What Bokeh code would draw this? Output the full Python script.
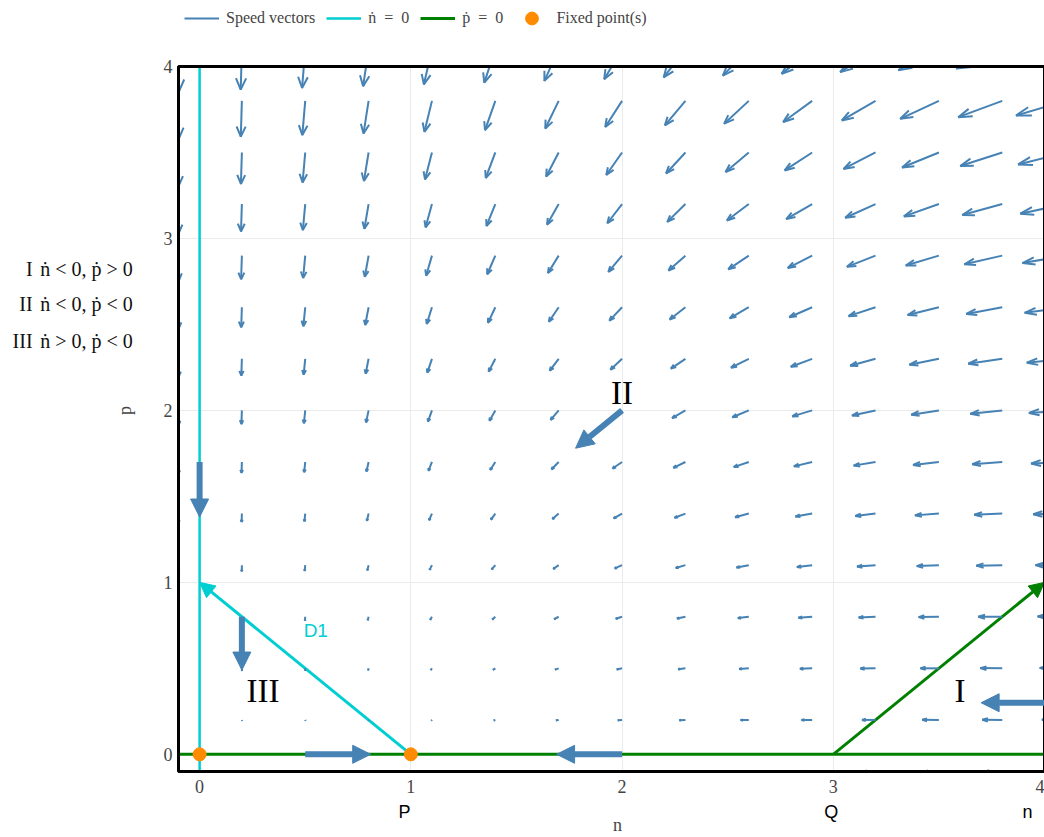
import math
from bokeh.plotting import figure
from bokeh.models import (Range1d, FixedTicker, Label, Arrow, NormalHead,
                          Legend, LegendItem, LinearAxis, BoxAnnotation)
from bokeh.embed import file_html
from bokeh.resources import INLINE

# ---------------- data ----------------
N_GRID = [-0.1, 0.2, 0.5, 0.8, 1.1, 1.4, 1.7, 2.0, 2.3, 2.6, 2.9, 3.2, 3.5, 3.8, 4.1]
P_GRID = [-0.1, 0.2, 0.5, 0.8, 1.1, 1.4, 1.7, 2.0, 2.3, 2.6, 2.9, 3.2, 3.5, 3.8, 4.1]

# speed components (n-dot) per row of P_GRID, columns follow N_GRID
U_ROWS = [
    [-0.12, 0.18, 0.30, 0.24, 0.00, -0.42, -1.02, -1.80, -2.76, -3.90, -5.22, -6.72, -8.40, -10.26, -12.30],
    [-0.09, 0.12, 0.15, 0.00, -0.33, -0.84, -1.53, -2.40, -3.45, -4.68, -6.09, -7.68, -9.45, -11.40, -13.53],
    [-0.06, 0.06, 0.00, -0.24, -0.66, -1.26, -2.04, -3.00, -4.14, -5.46, -6.96, -8.64, -10.50, -12.54, -14.76],
    [-0.03, 0.00, -0.15, -0.48, -0.99, -1.68, -2.55, -3.60, -4.83, -6.24, -7.83, -9.60, -11.55, -13.68, -15.99],
    [0.00, -0.06, -0.30, -0.72, -1.32, -2.10, -3.06, -4.20, -5.52, -7.02, -8.70, -10.56, -12.60, -14.82, -17.22],
    [0.03, -0.12, -0.45, -0.96, -1.65, -2.52, -3.57, -4.80, -6.21, -7.80, -9.57, -11.52, -13.65, -15.96, -18.45],
    [0.06, -0.18, -0.60, -1.20, -1.98, -2.94, -4.08, -5.40, -6.90, -8.58, -10.44, -12.48, -14.70, -17.10, -19.68],
    [0.09, -0.24, -0.75, -1.44, -2.31, -3.36, -4.59, -6.00, -7.59, -9.36, -11.31, -13.44, -15.75, -18.24, -20.91],
    [0.12, -0.30, -0.90, -1.68, -2.64, -3.78, -5.10, -6.60, -8.28, -10.14, -12.18, -14.40, -16.80, -19.38, -22.14],
    [0.15, -0.36, -1.05, -1.92, -2.97, -4.20, -5.61, -7.20, -8.97, -10.92, -13.05, -15.36, -17.85, -20.52, -23.37],
    [0.18, -0.42, -1.20, -2.16, -3.30, -4.62, -6.12, -7.80, -9.66, -11.70, -13.92, -16.32, -18.90, -21.66, -24.60],
    [0.21, -0.48, -1.35, -2.40, -3.63, -5.04, -6.63, -8.40, -10.35, -12.48, -14.79, -17.28, -19.95, -22.80, -25.83],
    [0.24, -0.54, -1.50, -2.64, -3.96, -5.46, -7.14, -9.00, -11.04, -13.26, -15.66, -18.24, -21.00, -23.94, -27.06],
    [0.27, -0.60, -1.65, -2.88, -4.29, -5.88, -7.65, -9.60, -11.73, -14.04, -16.53, -19.20, -22.05, -25.08, -28.29],
    [0.30, -0.66, -1.80, -3.12, -4.62, -6.30, -8.16, -10.20, -12.42, -14.82, -17.40, -20.16, -23.10, -26.22, -29.52],
]
# speed components (p-dot)
V_ROWS = [
    [0.30, 0.27, 0.24, 0.21, 0.18, 0.15, 0.12, 0.09, 0.06, 0.03, 0.00, -0.03, -0.06, -0.09, -0.12],
    [-0.66, -0.60, -0.54, -0.48, -0.42, -0.36, -0.30, -0.24, -0.18, -0.12, -0.06, 0.00, 0.06, 0.12, 0.18],
    [-1.80, -1.65, -1.50, -1.35, -1.20, -1.05, -0.90, -0.75, -0.60, -0.45, -0.30, -0.15, 0.00, 0.15, 0.30],
    [-3.12, -2.88, -2.64, -2.40, -2.16, -1.92, -1.68, -1.44, -1.20, -0.96, -0.72, -0.48, -0.24, 0.00, 0.24],
    [-4.62, -4.29, -3.96, -3.63, -3.30, -2.97, -2.64, -2.31, -1.98, -1.65, -1.32, -0.99, -0.66, -0.33, 0.00],
    [-6.30, -5.88, -5.46, -5.04, -4.62, -4.20, -3.78, -3.36, -2.94, -2.52, -2.10, -1.68, -1.26, -0.84, -0.42],
    [-8.16, -7.65, -7.14, -6.63, -6.12, -5.61, -5.10, -4.59, -4.08, -3.57, -3.06, -2.55, -2.04, -1.53, -1.02],
    [-10.20, -9.60, -9.00, -8.40, -7.80, -7.20, -6.60, -6.00, -5.40, -4.80, -4.20, -3.60, -3.00, -2.40, -1.80],
    [-12.42, -11.73, -11.04, -10.35, -9.66, -8.97, -8.28, -7.59, -6.90, -6.21, -5.52, -4.83, -4.14, -3.45, -2.76],
    [-14.82, -14.04, -13.26, -12.48, -11.70, -10.92, -10.14, -9.36, -8.58, -7.80, -7.02, -6.24, -5.46, -4.68, -3.90],
    [-17.40, -16.53, -15.66, -14.79, -13.92, -13.05, -12.18, -11.31, -10.44, -9.57, -8.70, -7.83, -6.96, -6.09, -5.22],
    [-20.16, -19.20, -18.24, -17.28, -16.32, -15.36, -14.40, -13.44, -12.48, -11.52, -10.56, -9.60, -8.64, -7.68, -6.72],
    [-23.10, -22.05, -21.00, -19.95, -18.90, -17.85, -16.80, -15.75, -14.70, -13.65, -12.60, -11.55, -10.50, -9.45, -8.40],
    [-26.22, -25.08, -23.94, -22.80, -21.66, -20.52, -19.38, -18.24, -17.10, -15.96, -14.82, -13.68, -12.54, -11.40, -10.26],
    [-29.52, -28.29, -27.06, -25.83, -24.60, -23.37, -22.14, -20.91, -19.68, -18.45, -17.22, -15.99, -14.76, -13.53, -12.30],
]

NULL_N_X = [0.0, 0.0]
NULL_N_Y = [-0.1, 4.0]
NULL_P_X = [-0.1, 4.05]
NULL_P_Y = [0.0, 0.0]

D1_START = (1.0, 0.0)
D1_END = (0.0, 1.0)
DIAG_START = (3.0, 0.0)
DIAG_END = (4.0, 1.0)

FIXED_N = [0.0, 1.0]
FIXED_P = [0.0, 0.0]

BIG_X0 = [0.0, 0.2, 0.5, 2.0, 2.0, 4.1]
BIG_Y0 = [1.70, 0.80, 0.0, 0.0, 2.0, 0.30]
BIG_X1 = [0.0, 0.2, 0.81, 1.69, 1.78, 3.70]
BIG_Y1 = [1.38, 0.49, 0.0, 0.0, 1.78, 0.30]

REGION_NAMES = ["II", "III", "I"]
REGION_X = [2.0, 0.30, 3.60]
REGION_Y = [2.10, 0.37, 0.37]

KEY_ROMAN = ["I", "II", "III"]
KEY_TEXT = ["ṅ < 0, ṗ > 0", "ṅ < 0, ṗ < 0", "ṅ > 0, ṗ < 0"]
KEY_Y = [2.825, 2.616, 2.401]

AXIS_TICKS = [0, 1, 2, 3, 4]
POINT_NAMES = ["P", "Q", "n"]
POINT_X = [0.97, 2.99, 3.92]
X_TITLE = "n"
Y_TITLE = "p"

# plotting area (data units) and the full view around it
AREA_X = (-0.1, 4.0)
AREA_Y = (-0.1, 4.0)
VIEW_X = (-0.9427, 4.0)
VIEW_Y = (-0.4838, 4.3838)

# ---------------- style ----------------
VEC_SCALE = 0.0083
HEAD_SCALE = 0.3
HEAD_ANGLE = math.pi / 9
BLUE = "#4682B4"
CYAN = "#00CED1"
GREEN = "#008000"
ORANGE = "#FF8C00"
SERIF = "Liberation Serif"
SANS = "Liberation Sans"
EN = "\u2002"

p = figure(width=1044, height=837, x_range=Range1d(*VIEW_X), y_range=Range1d(*VIEW_Y),
           output_backend="svg", toolbar_location=None, min_border=0,
           min_border_left=0, min_border_right=0, min_border_top=0, min_border_bottom=0)
p.background_fill_color = "white"
p.border_fill_color = "white"
p.outline_line_color = None

for ax in (p.xaxis[0], p.yaxis[0]):
    ax.ticker = FixedTicker(ticks=AXIS_TICKS)
    ax.axis_line_color = None
    ax.major_tick_line_color = None
    ax.minor_tick_line_color = None
    ax.major_tick_out = 0
    ax.major_tick_in = 0
    ax.major_label_text_font = SERIF
    ax.major_label_text_font_size = "18px"
    ax.major_label_text_color = "#444444"
p.xaxis[0].fixed_location = AREA_Y[0]
p.yaxis[0].fixed_location = AREA_X[0]
p.xaxis[0].major_label_standoff = 8
p.yaxis[0].major_label_standoff = 6

overrides = {}
for name, x in zip(POINT_NAMES, POINT_X):
    overrides[x] = name
    overrides[str(x)] = name
ax2 = LinearAxis(ticker=FixedTicker(ticks=POINT_X), major_label_overrides=overrides,
                 fixed_location=AREA_Y[0])
ax2.axis_line_color = None
ax2.major_tick_line_color = None
ax2.minor_tick_line_color = None
ax2.major_tick_out = 0
ax2.major_tick_in = 0
ax2.major_label_standoff = 30
ax2.major_label_text_font = SANS
ax2.major_label_text_font_size = "18px"
ax2.major_label_text_color = "black"
p.add_layout(ax2, "below")

p.xgrid.grid_line_color = "#ebebeb"
p.ygrid.grid_line_color = "#ebebeb"

# ---------------- vector field ----------------
bx, by, hx, hy = [], [], [], []
for i, pv in enumerate(P_GRID):
    for j, nv in enumerate(N_GRID):
        du = U_ROWS[i][j] * VEC_SCALE
        dv = V_ROWS[i][j] * VEC_SCALE
        ex, ey = nv + du, pv + dv
        bx.append([nv, ex])
        by.append([pv, ey])
        L = math.hypot(du, dv) * HEAD_SCALE
        ang = math.atan2(dv, du)
        a1, a2 = ang + HEAD_ANGLE, ang - HEAD_ANGLE
        hx.append([ex - L * math.cos(a1), ex, ex - L * math.cos(a2)])
        hy.append([ey - L * math.sin(a1), ey, ey - L * math.sin(a2)])

d1 = Arrow(x_start=D1_START[0], y_start=D1_START[1], x_end=D1_END[0], y_end=D1_END[1],
           line_color=CYAN, line_width=3, level="underlay",
           end=NormalHead(size=15, fill_color=CYAN, line_color=CYAN, line_width=1))
p.add_layout(d1)
diag = Arrow(x_start=DIAG_START[0], y_start=DIAG_START[1], x_end=DIAG_END[0], y_end=DIAG_END[1],
             line_color=GREEN, line_width=3, level="underlay",
             end=NormalHead(size=15, fill_color=GREEN, line_color=GREEN, line_width=1))
p.add_layout(diag)

r_vec = p.multi_line(bx, by, line_color=BLUE, line_width=2)
p.multi_line(hx, hy, line_color=BLUE, line_width=2)
r_n = p.line(NULL_N_X, NULL_N_Y, line_color=CYAN, line_width=2.5)
r_p = p.line(NULL_P_X, NULL_P_Y, line_color=GREEN, line_width=3)
r_fix = p.scatter(FIXED_N, FIXED_P, size=13, fill_color=ORANGE, line_color=ORANGE)

# white surround outside the plotting area, then the area's border
for l, r, b, t in [(VIEW_X[0], VIEW_X[1], AREA_Y[1], VIEW_Y[1]),
                   (VIEW_X[0], AREA_X[0], VIEW_Y[0], VIEW_Y[1]),
                   (VIEW_X[0], VIEW_X[1], VIEW_Y[0], AREA_Y[0])]:
    p.add_layout(BoxAnnotation(left=l, right=r, bottom=b, top=t, fill_color="white", fill_alpha=1.0,
                               line_color=None, level="glyph"))
p.add_layout(BoxAnnotation(left=AREA_X[0], right=AREA_X[1], bottom=AREA_Y[0], top=AREA_Y[1],
                           fill_alpha=0, line_color="black", line_alpha=1.0, line_width=3, level="glyph"))

for x0, y0, x1, y1 in zip(BIG_X0, BIG_Y0, BIG_X1, BIG_Y1):
    p.add_layout(Arrow(x_start=x0, y_start=y0, x_end=x1, y_end=y1, line_color=BLUE, line_width=6,
                       end=NormalHead(size=18, fill_color=BLUE, line_color=BLUE, line_width=1)))

# ---------------- labels ----------------
for t, x, y in zip(REGION_NAMES, REGION_X, REGION_Y):
    p.add_layout(Label(x=x, y=y, text=t, text_font=SERIF, text_font_size="33px", text_color="black",
                       text_align="center", text_baseline="middle"))

p.add_layout(Label(x=0.55, y=0.72, text="D1", text_font=SANS, text_font_size="19px", text_color=CYAN,
                   text_align="center", text_baseline="middle"))

for r, t, y in zip(KEY_ROMAN, KEY_TEXT, KEY_Y):
    p.add_layout(Label(x=-0.791, y=y, text=r, text_font=SERIF, text_font_size="20px", text_color="#111111",
                       text_align="right", text_baseline="middle"))
    p.add_layout(Label(x=-0.755, y=y, text=t, text_font=SERIF, text_font_size="20px", text_color="#111111",
                       text_align="left", text_baseline="middle"))

p.add_layout(Label(x=-0.351, y=2.0, text=Y_TITLE, angle=math.pi / 2, text_font=SERIF, text_font_size="18px",
                   text_color="#444444", text_align="center", text_baseline="middle"))
p.add_layout(Label(x=1.978, y=-0.41, text=X_TITLE, text_font=SERIF, text_font_size="18px",
                   text_color="#444444", text_align="center", text_baseline="middle"))

# ---------------- legend ----------------
legend = Legend(items=[
    LegendItem(label="Speed vectors", renderers=[r_vec]),
    LegendItem(label="ṅ" + EN + "=" + EN + "0", renderers=[r_n]),
    LegendItem(label="ṗ" + EN + "=" + EN + "0", renderers=[r_p]),
    LegendItem(label="Fixed point(s)", renderers=[r_fix]),
], orientation="horizontal", location=(184, 803), glyph_width=35, glyph_height=32,
   label_standoff=7, spacing=11, padding=0, margin=0, border_line_color=None,
   background_fill_alpha=0, label_text_font=SERIF, label_text_font_size="16px",
   label_text_color="#444444")
p.add_layout(legend)

open("out.html", "w").write(file_html(p, INLINE))
